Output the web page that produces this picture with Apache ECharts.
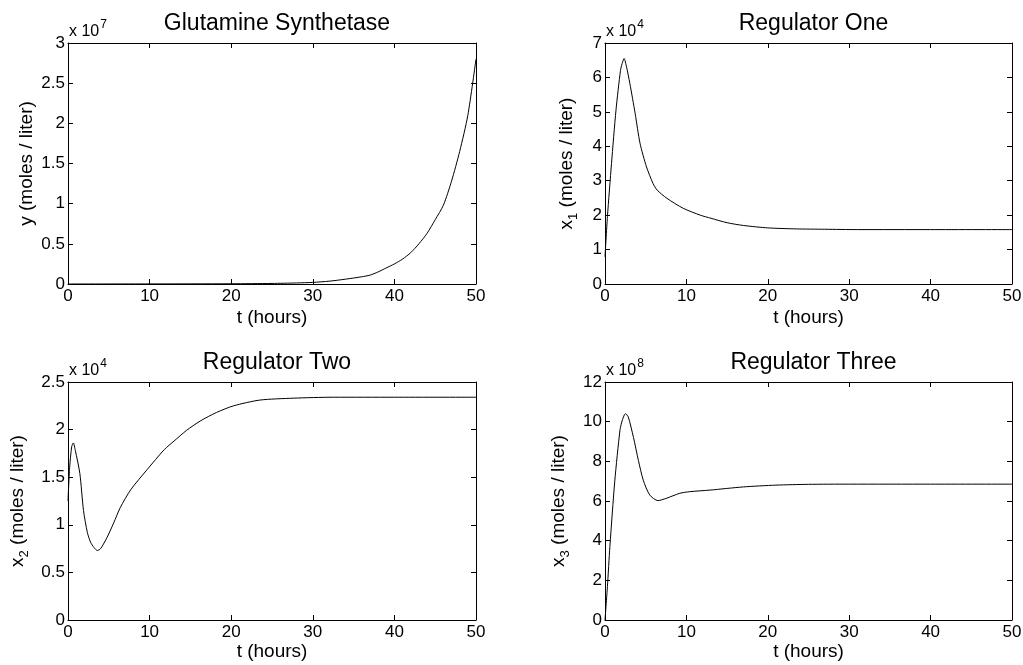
<!DOCTYPE html>
<html>
<head>
<meta charset="utf-8">
<script src="https://cdn.jsdelivr.net/npm/echarts@6/dist/echarts.min.js"></script>
<style>
html,body{margin:0;padding:0;background:#fff;}
#c{width:1023px;height:665px;}
</style>
</head>
<body>
<div id="c"></div>
<script>
// ---- data (values in units of the axis multiplier) ----
const titles = ['Glutamine Synthetase', 'Regulator One', 'Regulator Two', 'Regulator Three'];
const exponents = ['7', '4', '4', '8'];
const xTicks = [0, 10, 20, 30, 40, 50];
const yMax = [3, 7, 2.5, 12];
const yStep = [0.5, 1, 0.5, 2];

const tGS = [0, 10, 20, 25, 28, 30, 32, 34, 36, 37, 38, 39, 40, 41, 42, 43, 44, 45, 46, 47, 48, 49, 50];
const yGS = [0, 0.001, 0.003, 0.007, 0.013, 0.02, 0.035, 0.06, 0.09, 0.11, 0.15, 0.2, 0.25, 0.31, 0.39, 0.5, 0.63, 0.8, 0.98, 1.28, 1.65, 2.1, 2.8];

const tR1 = [0, 0.3, 0.8, 1.35, 1.9, 2.1, 2.35, 2.65, 3.05, 3.7, 4.3, 5.1, 5.9, 6.4, 7.6, 9.6, 11.7, 13, 15, 17, 20, 23.5, 27, 31, 40, 50];
const yR1 = [0.79, 1.96, 3.5, 5.05, 6.2, 6.4, 6.55, 6.3, 5.83, 4.96, 4.09, 3.4, 2.92, 2.73, 2.49, 2.2, 2.0, 1.91, 1.78, 1.70, 1.63, 1.60, 1.59, 1.58, 1.58, 1.58];

const tR2 = [0, 0.2, 0.45, 0.65, 0.9, 1.45, 1.9, 2.37, 2.75, 3.2, 3.6, 4.0, 4.8, 5.6, 6.4, 7.7, 9.7, 11.8, 13, 14.5, 16.2, 18.2, 20.3, 23.5, 27.6, 32.5, 40, 50];
const yR2 = [1.25, 1.6, 1.82, 1.86, 1.78, 1.54, 1.15, 0.92, 0.82, 0.76, 0.73, 0.75, 0.87, 1.02, 1.18, 1.37, 1.58, 1.79, 1.88, 1.99, 2.09, 2.18, 2.25, 2.31, 2.33, 2.34, 2.34, 2.34];

const tR3 = [0, 0.3, 0.6, 1.2, 1.85, 2.15, 2.5, 2.85, 3.5, 4.1, 4.7, 5.5, 6.5, 7.5, 9.2, 10.4, 12.9, 17, 21, 25, 30, 40, 50];
const yR3 = [0, 1.7, 3.7, 7.0, 9.6, 10.1, 10.4, 10.25, 9.2, 8.05, 7.05, 6.3, 6.02, 6.13, 6.39, 6.47, 6.55, 6.71, 6.8, 6.84, 6.85, 6.85, 6.85];

const yNames = [
  '{v|y (moles / liter)}',
  '{v|x}{s|1}{v| (moles / liter)}',
  '{v|x}{s|2}{v| (moles / liter)}',
  '{v|x}{s|3}{v| (moles / liter)}'
];
const xName = 't (hours)';

// ---- layout ----
const grids = [
  {left: 68, top: 43, width: 408, height: 241},
  {left: 605, top: 43, width: 407, height: 241},
  {left: 68, top: 382, width: 408, height: 238},
  {left: 605, top: 382, width: 407, height: 238}
];
const yNameGaps = [30, 27, 39, 35];
const xNameGaps = [24, 24, 21, 21];
const series = [[tGS, yGS], [tR1, yR1], [tR2, yR2], [tR3, yR3]];

const FONT = '"Liberation Sans", Arial, Helvetica, sans-serif';
const BLACK = '#000';

const option = {
  backgroundColor: '#fff',
  animation: false,
  title: [],
  grid: [],
  xAxis: [],
  yAxis: [],
  series: [],
  graphic: []
};

grids.forEach((g, i) => {
  option.grid.push(Object.assign({containLabel: false, outerBoundsMode: 'none', show: false}, g));
  const xBase = {
    type: 'value', gridIndex: i, min: xTicks[0], max: xTicks[xTicks.length - 1], interval: 10,
    axisLine: {show: true, onZero: false, lineStyle: {color: BLACK, width: 1}},
    axisTick: {show: true, inside: true, length: 5, lineStyle: {color: BLACK}},
    splitLine: {show: false}
  };
  option.xAxis.push(Object.assign({}, xBase, {
    position: 'bottom',
    axisLabel: {color: BLACK, fontSize: 17, fontFamily: FONT, margin: 4},
    name: xName, nameLocation: 'middle', nameGap: xNameGaps[i],
    nameTextStyle: {color: BLACK, fontSize: 19, fontFamily: FONT}
  }));
  option.xAxis.push(Object.assign({}, xBase, {position: 'top', axisLabel: {show: false}}));
  const yBase = {
    type: 'value', gridIndex: i, min: 0, max: yMax[i], interval: yStep[i],
    axisLine: {show: true, onZero: false, lineStyle: {color: BLACK, width: 1}},
    axisTick: {show: true, inside: true, length: 5, lineStyle: {color: BLACK}},
    splitLine: {show: false}
  };
  option.yAxis.push(Object.assign({}, yBase, {
    position: 'left',
    axisLabel: {color: BLACK, fontSize: 17, fontFamily: FONT, margin: 3},
    name: yNames[i], nameLocation: 'middle', nameGap: yNameGaps[i],
    nameTextStyle: {
      color: BLACK, fontFamily: FONT,
      rich: {
        v: {fontSize: 19, fontFamily: FONT, color: BLACK, lineHeight: 22},
        s: {fontSize: 13, fontFamily: FONT, color: BLACK, padding: [12, 0, 0, 0], lineHeight: 14}
      }
    }
  }));
  option.yAxis.push(Object.assign({}, yBase, {position: 'right', axisLabel: {show: false}}));

  option.title.push({
    text: titles[i],
    left: g.left + g.width / 2, textAlign: 'center',
    top: g.top - 36,
    textStyle: {color: BLACK, fontSize: 23, fontWeight: 'normal', fontFamily: FONT}
  });

  option.graphic.push({
    type: 'text',
    left: g.left + 1, top: g.top - 24,
    style: {
      text: '{a|x 10}{b|' + exponents[i] + '}',
      rich: {
        a: {fontSize: 16, fontFamily: FONT, fill: BLACK, padding: [7, 0, 0, 0]},
        b: {fontSize: 12, fontFamily: FONT, fill: BLACK, padding: [0, 0, 7, 1]}
      },
      fill: BLACK
    }
  });

  const [ts, ys] = series[i];
  option.series.push({
    type: 'line',
    xAxisIndex: 2 * i, yAxisIndex: 2 * i,
    data: ts.map((t, k) => [t, ys[k]]),
    showSymbol: false, symbol: 'none',
    smooth: 0.25,
    lineStyle: {color: BLACK, width: 1},
    clip: true
  });
});

const chart = echarts.init(document.getElementById('c'), null, {renderer: 'canvas'});
chart.setOption(option);
</script>
</body>
</html>
